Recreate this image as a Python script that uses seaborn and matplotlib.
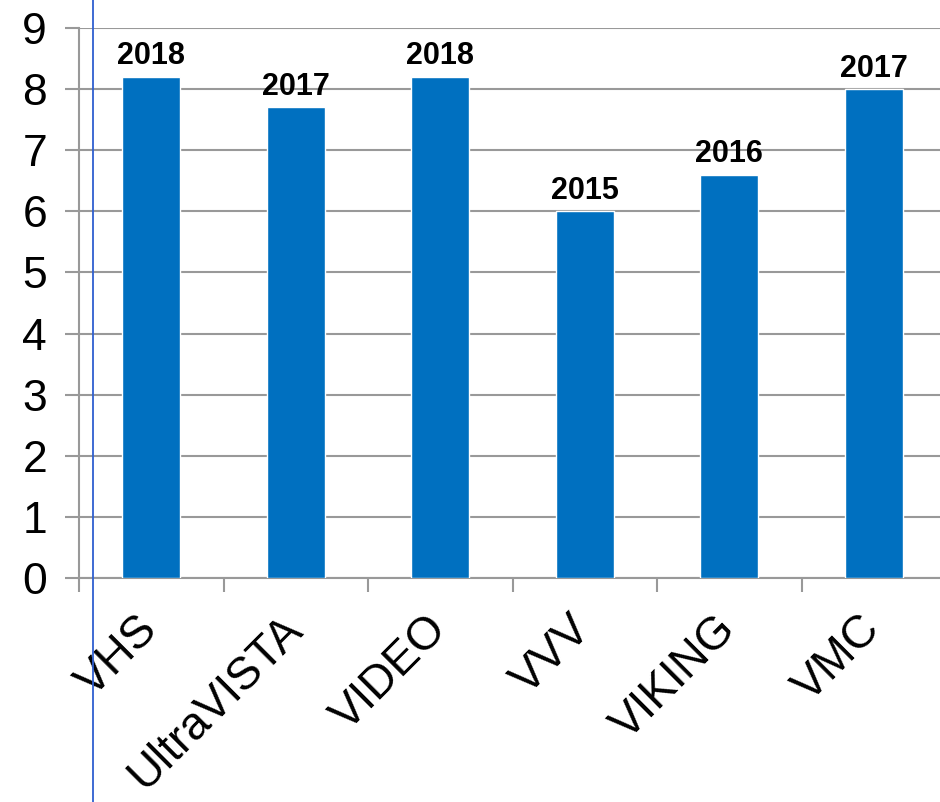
import matplotlib
matplotlib.use("Agg")
import matplotlib.pyplot as plt
from matplotlib.lines import Line2D
import seaborn as sns
import pandas as pd

surveys = ["VHS", "UltraVISTA", "VIDEO", "VVV", "VIKING", "VMC"]
values = [8.2, 7.7, 8.2, 6.0, 6.6, 8.0]
years = ["2018", "2017", "2018", "2015", "2016", "2017"]

sns.set_style("white")
plt.rcParams["font.family"] = ["Liberation Sans", "DejaVu Sans"]
plt.rcParams["text.color"] = "black"
plt.rcParams["xtick.color"] = "black"
plt.rcParams["ytick.color"] = "black"

df = pd.DataFrame({"survey": surveys, "value": values})

fig = plt.figure(figsize=(9.4, 8.02), dpi=100)
ax = fig.add_axes([79 / 940, 1 - 578 / 802, 867 / 940, 550 / 802])

sns.barplot(
    data=df,
    x="survey",
    y="value",
    color="#0070C0",
    saturation=1,
    width=0.4,
    ax=ax,
    zorder=3
)

for i, (v, yr) in enumerate(zip(values, years)):
    ax.text(i, v + 0.09, yr, ha="center", va="bottom",
            fontsize=22, fontweight="bold", color="black", zorder=4)

ax.set_xlim(-0.5, 5.5)
ax.set_ylim(0, 9)
ax.set_yticks(range(10))
ax.yaxis.grid(True, color="#999999", linewidth=1.5, zorder=0)
ax.set_xlabel("")
ax.set_ylabel("")

for s in ["top", "right"]:
    ax.spines[s].set_visible(False)
for s in ["left", "bottom"]:
    ax.spines[s].set_color("#999999")
    ax.spines[s].set_linewidth(1.5)

ax.tick_params(axis="y", length=10, width=1.5, color="#999999",
               labelcolor="black", labelsize=32, pad=13,
               direction="out", left=True)
ax.set_xticks([x - 0.5 for x in range(7)], minor=True)
ax.tick_params(axis="x", which="minor", length=10, width=1.5,
               color="#999999", direction="out", bottom=True)
ax.tick_params(axis="x", which="major", length=0, labelsize=33,
               labelcolor="black", pad=32)
plt.setp(ax.get_xticklabels(), rotation=45, ha="right",
         rotation_mode="anchor", va="center")

fig.add_artist(Line2D([93 / 940, 93 / 940], [0, 1], color="#2F5FD0",
                      linewidth=1.3, transform=fig.transFigure))

fig.savefig("out.png", dpi=100)
